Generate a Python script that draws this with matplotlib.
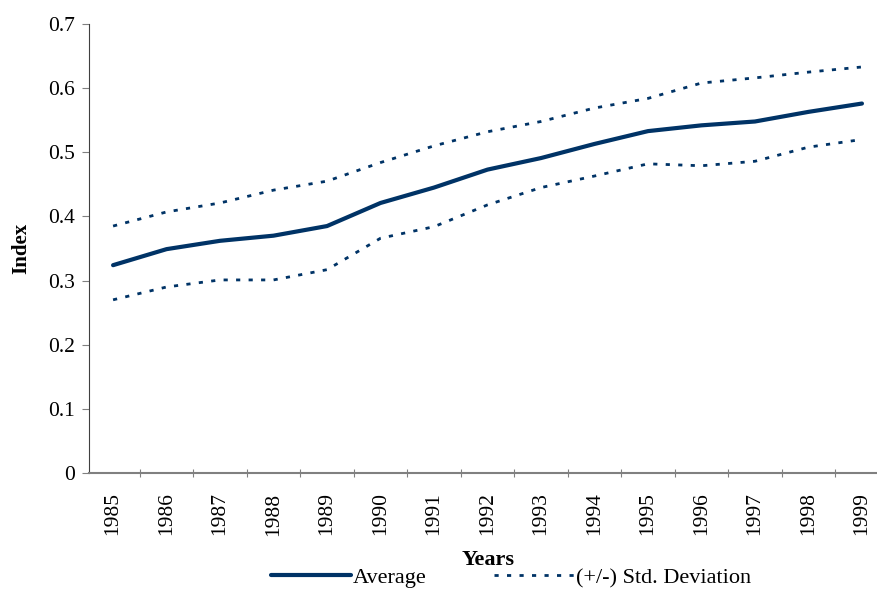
import numpy as np
import matplotlib
matplotlib.use("Agg")
import matplotlib.pyplot as plt
from matplotlib.ticker import FixedLocator, NullFormatter

plt.rcParams['font.family'] = ['Liberation Serif', 'DejaVu Serif']

years = ['1985', '1986', '1987', '1988', '1989', '1990', '1991', '1992',
         '1993', '1994', '1995', '1996', '1997', '1998', '1999']
average = [0.324, 0.349, 0.362, 0.370, 0.385, 0.421, 0.445, 0.473,
           0.491, 0.513, 0.533, 0.542, 0.548, 0.563, 0.576]
upper = [0.385, 0.407, 0.421, 0.441, 0.455, 0.484, 0.510, 0.532,
         0.548, 0.569, 0.584, 0.608, 0.616, 0.625, 0.633]
lower = [0.270, 0.290, 0.301, 0.301, 0.317, 0.366, 0.384, 0.418,
         0.445, 0.463, 0.482, 0.479, 0.486, 0.508, 0.520]

navy = '#003366'

fig = plt.figure(figsize=(8.78, 5.91), dpi=100)
ax = fig.add_axes([89 / 878, 1 - 473 / 591, 1 - 89 / 878, 449 / 591])

x = np.arange(len(years))
ax.plot(x, average, color=navy, lw=3, solid_capstyle='round', label='Average')
ax.plot(x, upper, color=navy, lw=2, linestyle=(0, (1.5, 3)),
        label='(+/-) Std. Deviation')
ax.plot(x, lower, color=navy, lw=2, linestyle=(0, (1.5, 3)))

ax.set_ylim(0, 0.7)
ax.set_yticks(np.arange(0, 0.71, 0.1))
ax.set_yticklabels(['0'] + ['%.1f' % v for v in np.arange(0.1, 0.71, 0.1)])
ax.set_xlim(-0.45, len(years) - 0.7)

ax.xaxis.set_major_locator(FixedLocator(np.arange(-0.5, len(years), 1.0)))
ax.xaxis.set_major_formatter(NullFormatter())
ax.xaxis.set_minor_locator(FixedLocator(x))
ax.set_xticklabels(years, minor=True, rotation=90)
ax.tick_params(axis='x', which='major', length=6, direction='inout', color='#808080')
ax.tick_params(axis='x', which='minor', length=0, pad=14, labelsize=15.5)
ax.tick_params(axis='y', length=5, color='#808080', labelsize=15.5, pad=5)

for side in ['top', 'right']:
    ax.spines[side].set_visible(False)
ax.spines['left'].set_color('#404040')
ax.spines['bottom'].set_color('#808080')
ax.spines['bottom'].set_linewidth(1.5)

ax.set_ylabel('Index', fontsize=15, fontweight='bold', labelpad=12)
fig.text(488 / 878, 1 - 560 / 591, 'Years', fontsize=16, fontweight='bold',
         ha='center', va='center')

fig.legend(loc='center', bbox_to_anchor=(511 / 878, 1 - 578 / 591), ncol=2,
           frameon=False, fontsize=16, handlelength=3.6, handletextpad=0.1,
           columnspacing=3.0, borderaxespad=0)

fig.savefig('out.png', dpi=100)
